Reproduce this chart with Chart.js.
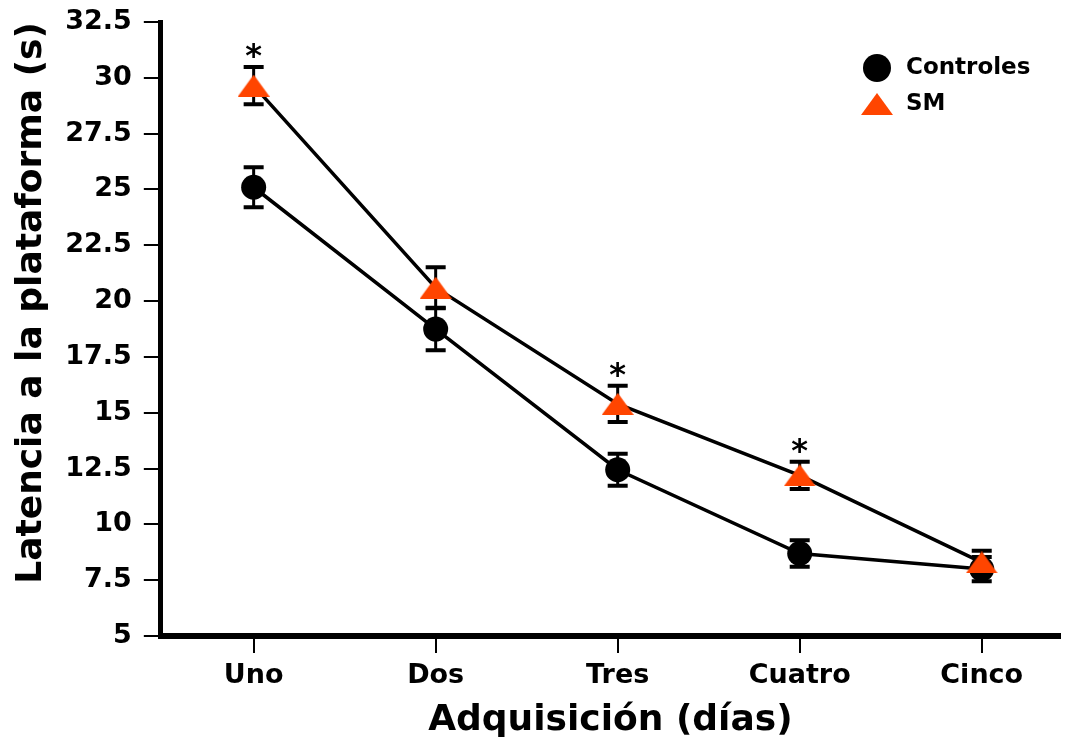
<!DOCTYPE html>
<html>
<head>
<meta charset="utf-8">
<title>Latencia a la plataforma</title>
<script src="https://cdn.jsdelivr.net/npm/chart.js@4.4.1/dist/chart.umd.min.js"></script>
<style>
body{margin:0;background:#fff}
#wrap{width:1065px;height:742px}
</style>
</head>
<body>
<div id="wrap"><canvas id="latChart"></canvas></div>
<script>

// datos (media y error estandar por dia)

const dias = ['Uno','Dos','Tres','Cuatro','Cinco']
const controles = [25.1, 18.75, 12.45, 8.7, 8.0]
const controlesEE = [0.9, 0.95, 0.72, 0.59, 0.54]
const sm = [29.65, 20.6, 15.4, 12.2, 8.3]
const smEE = [0.83, 0.92, 0.81, 0.61, 0.52]
const significativo = [true, false, true, true, false]
const yTicks = [5, 7.5, 10, 12.5, 15, 17.5, 20, 22.5, 25, 27.5, 30, 32.5]

const FUENTE = 'DejaVu Sans'
const NARANJA = '#ff4500'


// triangulo achatado para SM

function triangulo(w,h,color){
const c = document.createElement('canvas')
c.width = w
c.height = h
const g = c.getContext('2d')
g.fillStyle = color
g.beginPath()
g.moveTo(w/2,0)
g.lineTo(w,h)
g.lineTo(0,h)
g.closePath()
g.fill()
return c
}

const triSM = triangulo(32,22,NARANJA)

const errores = [controlesEE, smEE]


// barras de error

const barrasError = {
id:'barrasError',
beforeDatasetsDraw(chart){
const ctx = chart.ctx
const y = chart.scales.y
ctx.save()
ctx.strokeStyle = '#000'
chart.data.datasets.forEach((ds,di)=>{
const meta = chart.getDatasetMeta(di)
meta.data.forEach((pt,i)=>{
const v = ds.data[i].y
const e = errores[di][i]
const top = y.getPixelForValue(v+e)
const bot = y.getPixelForValue(v-e)
ctx.lineWidth = 3
ctx.beginPath()
ctx.moveTo(pt.x,top)
ctx.lineTo(pt.x,bot)
ctx.stroke()
ctx.lineWidth = 4
ctx.beginPath()
ctx.moveTo(pt.x-10,top)
ctx.lineTo(pt.x+10,top)
ctx.moveTo(pt.x-10,bot)
ctx.lineTo(pt.x+10,bot)
ctx.stroke()
})
})
ctx.restore()
}
}


// asteriscos sobre SM

const asteriscos = {
id:'asteriscos',
afterDatasetsDraw(chart){
const ctx = chart.ctx
const y = chart.scales.y
const meta = chart.getDatasetMeta(1)
ctx.save()
ctx.fillStyle = '#000'
ctx.font = 'bold 32px ' + FUENTE
ctx.textAlign = 'center'
ctx.textBaseline = 'alphabetic'
significativo.forEach((s,i)=>{
if(!s) return
const top = y.getPixelForValue(sm[i]+smEE[i])
ctx.fillText('*', meta.data[i].x, top-1)
})
ctx.restore()
}
}


// leyenda dentro del area

const leyenda = {
id:'leyenda',
afterDraw(chart){
const ctx = chart.ctx
const a = chart.chartArea
const x = a.right - 183
const y = a.top + 46
ctx.save()
ctx.fillStyle = '#000'
ctx.beginPath()
ctx.arc(x, y, 14, 0, Math.PI*2)
ctx.fill()
ctx.drawImage(triSM, x-16, y+25)
ctx.font = 'bold 23px ' + FUENTE
ctx.textBaseline = 'middle'
ctx.fillText(chart.data.datasets[0].label, x+29, y)
ctx.fillText(chart.data.datasets[1].label, x+29, y+36)
ctx.restore()
}
}


// grafico

const tickFont = {family:FUENTE, size:27, weight:'bold'}
const titleFont = {family:FUENTE, size:36, weight:'bold'}

new Chart(document.getElementById('latChart'),{
type:'line',
data:{
datasets:[{
label:'Controles',
data:controles.map((v,i)=>({x:i,y:v})),
borderColor:'#000',
borderWidth:3.5,
pointRadius:12.5,
pointBackgroundColor:'#000',
pointBorderWidth:0,
tension:0,
order:1
},{
label:'SM',
data:sm.map((v,i)=>({x:i,y:v})),
borderColor:'#000',
borderWidth:3.5,
pointStyle:triSM,
pointRadius:12,
tension:0,
order:0
}]
},
options:{
responsive:true,
maintainAspectRatio:false,
animation:false,
layout:{autoPadding:false, padding:{left:0,right:5,top:22,bottom:0}},
plugins:{legend:{display:false},tooltip:{enabled:false}},
scales:{
x:{
type:'linear',
min:-0.51,
max:4.43,
afterBuildTicks:s=>{ s.ticks = dias.map((d,i)=>({value:i})) },
afterFit:s=>{ s.paddingLeft = 0; s.paddingRight = 0 },
ticks:{callback:v=>dias[v], font:{...tickFont, lineHeight:1.1}, color:'#000', padding:8, maxRotation:0},
grid:{drawOnChartArea:false, tickLength:17, lineWidth:2, color:'#000'},
border:{color:'#000', width:6},
title:{display:true, text:'Adquisición (días)', font:titleFont, color:'#000', padding:{top:0,bottom:0}}
},
y:{
min:5,
max:32.5,
afterBuildTicks:s=>{ s.ticks = yTicks.map(v=>({value:v})) },
afterFit:s=>{ s.paddingTop = 0; s.paddingBottom = 0 },
ticks:{callback:v=>String(v), font:tickFont, color:'#000', padding:12},
grid:{drawOnChartArea:false, tickLength:17, lineWidth:2, color:'#000'},
border:{color:'#000', width:5},
title:{display:true, text:'Latencia a la plataforma (s)', align:'end', font:titleFont, color:'#000', padding:{top:10,bottom:0}}
}
}
},
plugins:[barrasError, asteriscos, leyenda]
})

</script>
</body>
</html>
